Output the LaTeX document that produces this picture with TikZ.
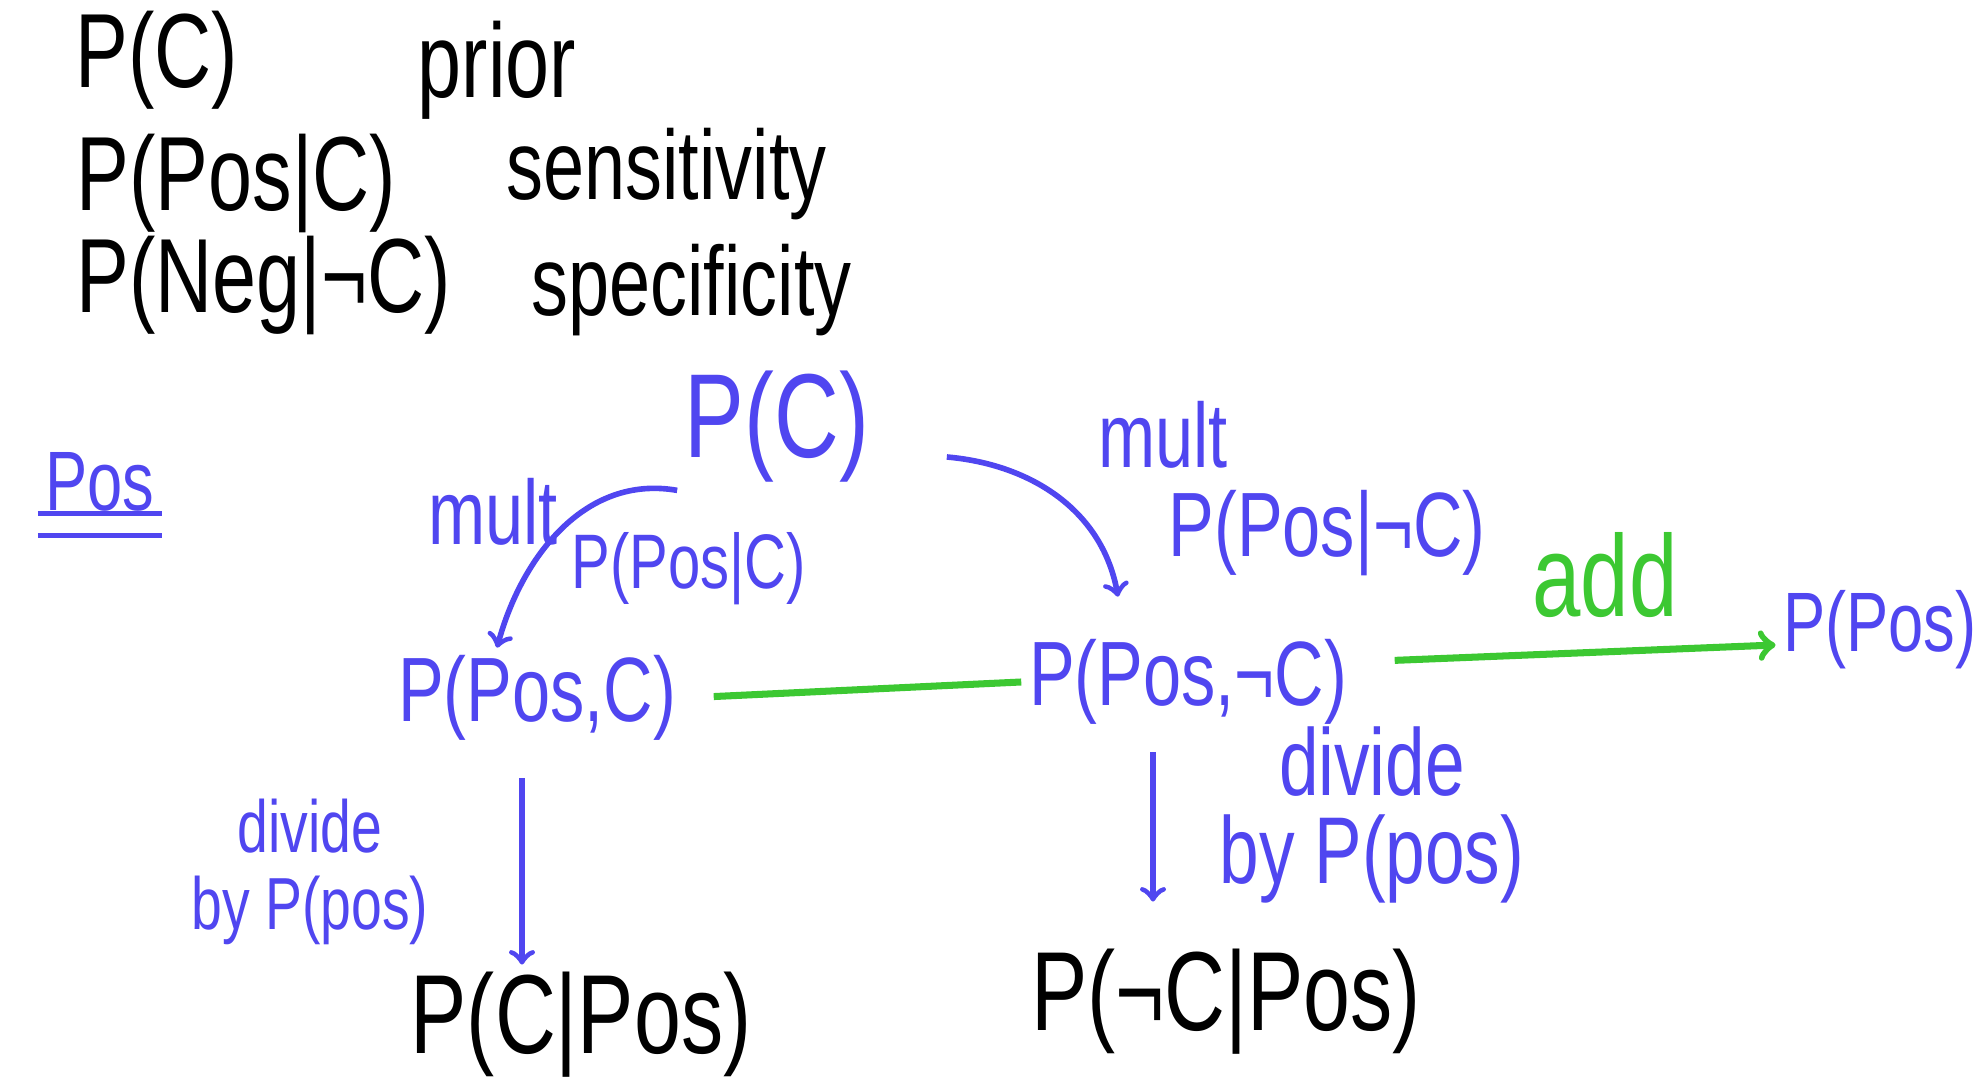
\documentclass[tikz,border=0pt]{standalone}
\usepackage{fontspec}
\setmainfont[FakeStretch=0.75]{Liberation Sans}
\usepackage{tikz}
\usepackage{xcolor}
\definecolor{penblue}{RGB}{80,70,240}
\definecolor{pengreen}{RGB}{60,200,50}
\tikzstyle{hdr} = [anchor=west, inner sep=0pt, font=\fontsize{30}{34}\selectfont]
\tikzstyle{bl} = [penblue, inner sep=2pt, font=\fontsize{26}{30}\selectfont]
\tikzstyle{res} = [black, inner sep=2pt, font=\fontsize{32}{36}\selectfont]
\tikzstyle{arr} = [->, penblue, line width=1.6pt]
\tikzstyle{grn} = [pengreen, line width=2pt]

\begin{document}
\begin{tikzpicture}
    \useasboundingbox (0,0) rectangle (19.82,10.8);

    % Definitions
    \node[hdr] (prC) at (0.75,10.20) {P(C)};
    \node[hdr] (prior) at (4.17,10.10) {prior};
    \node[hdr] (senPC) at (0.76,8.97) {P(Pos|C)};
    \node[hdr, font=\fontsize{28}{32}\selectfont] (sens) at (5.06,9.06) {sensitivity};
    \node[hdr] (spcPC) at (0.76,7.95) {P(Neg|¬C)};
    \node[hdr, font=\fontsize{28}{32}\selectfont] (spec) at (5.31,7.90) {specificity};

    % Pos case
    \node[bl, font=\fontsize{24}{27}\selectfont] (posl) at (1.0,5.98) {Pos};
    \draw[penblue, line width=1.4pt] ([yshift=0.6mm]posl.south west) -- ([yshift=0.6mm]posl.south east);
    \draw[penblue, line width=1.4pt] ([yshift=-1.6mm]posl.south west) -- ([yshift=-1.6mm]posl.south east);

    % Nodes
    \node[bl, font=\fontsize{34}{38}\selectfont] (pc) at (7.77,6.53) {P(C)};
    \node[bl] (pjc) at (5.37,3.82) {P(Pos,C)};
    \node[bl] (pnc) at (11.88,3.98) {P(Pos,¬C)};
    \node[bl, font=\fontsize{24}{28}\selectfont] (ppos) at (18.80,4.50) {P(Pos)};
    \node[res] (cpos) at (5.81,0.55) {P(C|Pos)};
    \node[res] (ncpos) at (12.26,0.78) {P(¬C|Pos)};

    % Multiply
    \draw[arr] (pc.south west) to[out=170,in=75] ([xshift=-4mm]pjc.north);
    \node[bl] (mult1) at (4.93,5.68) {mult};
    \node[bl, font=\fontsize{22}{26}\selectfont] (lpc) at (6.89,5.11) {P(Pos|C)};
    \draw[arr] ([xshift=7mm,yshift=-3mm]pc.east) to[out=-5,in=100] ([xshift=-7mm,yshift=3.5mm]pnc.north);
    \node[bl] (mult2) at (11.63,6.45) {mult};
    \node[bl] (lpnc) at (13.27,5.47) {P(Pos|¬C)};

    % Add
    \draw[grn, shorten <=3mm] (pjc.east) -- (pnc.west);
    \draw[grn, ->, shorten <=4mm] ([yshift=2mm]pnc.east) -- ([yshift=-1.5mm]ppos.west);
    \node[pengreen, font=\fontsize{33}{36}\selectfont] (add) at (16.05,5.05) {add};

    % Divide
    \draw[arr, shorten <=3mm] ([xshift=-1.5mm]pjc.south) -- ([xshift=-1.5mm]pjc.south |- cpos.north);
    \node[bl, align=center, font=\fontsize{21}{22}\selectfont] (div1) at (3.1,2.08) {divide\\by P(pos)};
    \draw[arr, shorten <=2mm, shorten >=4mm] ([xshift=-3.5mm]pnc.south) -- ([xshift=-3.5mm]pnc.south |- ncpos.north);
    \node[bl, align=center, font=\fontsize{27}{25}\selectfont] (div2) at (13.72,2.65) {divide\\by P(pos)};
\end{tikzpicture}
\end{document}
